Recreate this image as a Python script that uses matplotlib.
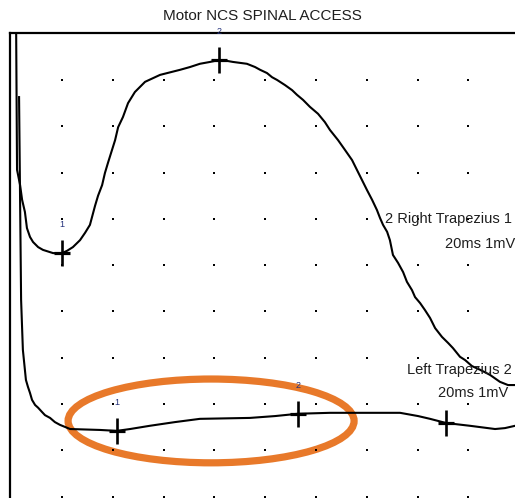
import numpy as np
import matplotlib
matplotlib.use("Agg")
import matplotlib.pyplot as plt
from matplotlib.patches import Ellipse

plt.rcParams['font.family'] = ['Liberation Sans', 'DejaVu Sans']

title = "Motor NCS SPINAL ACCESS"

# Right trapezius response (time in ms, amplitude in mV)
right_t = [1.9, 2.3, 3.5, 4.3, 5.4, 6.2, 7.4, 8.6, 10.6, 12.5, 16.5, 20.0, 22.0,
           24.3, 27.1, 29.1, 31.0, 33.0, 34.2, 35.8, 36.9, 38.1, 39.7, 40.9, 42.1,
           44.0, 46.0, 48.7, 52.7, 58.6, 66.5, 70.4, 74.3, 78.3, 81.8, 84.2, 87.3,
           92.8, 96.0, 98.0, 100.7, 102.7, 104.7, 107.8, 110.6, 112.5, 114.9, 117.6,
           120.8, 123.5, 125.5, 128.7, 131.4, 134.2, 136.1, 138.1, 140.1, 142.1,
           144.0, 145.2, 146.4, 148.0, 149.1, 150.3, 152.3, 154.3, 155.8, 157.8,
           159.0, 161.0, 162.9, 164.9, 166.9, 169.6, 172.0, 173.9, 176.7, 178.7,
           181.4, 184.6, 188.5, 192.4, 195.6, 198.4]
right_mv = [5.50, 2.06, 1.73, 1.41, 1.15, 0.80, 0.61, 0.50, 0.39, 0.33, 0.26, 0.26, 0.31,
            0.39, 0.54, 0.70, 0.87, 1.28, 1.50, 1.73, 1.99, 2.21, 2.49, 2.70, 2.98,
            3.20, 3.50, 3.74, 3.96, 4.11, 4.22, 4.28, 4.35, 4.39, 4.43, 4.42, 4.39,
            4.35, 4.28, 4.22, 4.15, 4.06, 4.00, 3.89, 3.78, 3.68, 3.57, 3.42,
            3.27, 3.09, 2.92, 2.70, 2.49, 2.27, 2.06, 1.84, 1.62, 1.41,
            1.19, 1.02, 0.87, 0.72, 0.54, 0.22, 0.05, -0.15, -0.36, -0.54,
            -0.69, -0.82, -0.97, -1.14, -1.36, -1.55, -1.68, -1.79, -1.98, -2.05,
            -2.18, -2.26, -2.37, -2.52, -2.59, -2.59]

# Left trapezius response
left_t = [3.1, 3.5, 3.9, 4.6, 5.8, 6.6, 7.4, 8.2, 9.4, 10.6, 12.1, 13.3, 15.3,
          17.2, 19.2, 23.2, 35.0, 41.6, 46.8, 54.6, 64.5, 74.3, 94.0, 103.9,
          112.9, 125.5, 153.1, 160.2, 164.9, 171.2, 180.6, 190.5, 194.4, 198.4]
left_mv = [6.63, 4.41, 2.25, 1.17, 0.52, 0.37, 0.24, 0.09, -0.02, -0.08, -0.17, -0.24, -0.30,
           -0.39, -0.45, -0.54, -0.56, -0.58, -0.54, -0.47, -0.39, -0.32, -0.30, -0.26,
           -0.21, -0.19, -0.19, -0.26, -0.32, -0.41, -0.47, -0.54, -0.52, -0.47]

# Latency cursors (ms) and their labels
right_marks = [20.0, 81.8]
left_marks = [41.6, 112.9, 171.2]
mark_labels = ["1", "2"]

right_name = "2 Right Trapezius 1"
left_name = "Left Trapezius 2"
scale_text = "20ms 1mV"

# Vertical display position of each trace (divisions from the top)
right_offset = -5.0
left_offset = -8.0

ms_per_div = 20
grid_cols = np.arange(1, 10) * ms_per_div
grid_rows = -np.arange(1, 11)

W, H = 515, 498
fig = plt.figure(figsize=(W / 100, H / 100), dpi=100)
ax = fig.add_axes([10 / W, 0, (W - 10) / W, (H - 33) / H])
ax.set_xlim(-0.47, 198.35)
ax.set_ylim(-10.03, 0.015)
for s in ("right", "bottom"):
    ax.spines[s].set_visible(False)
for s in ("left", "top"):
    ax.spines[s].set_linewidth(1.6)
ax.set_xticks([])
ax.set_yticks([])

# dotted division grid
gx, gy = np.meshgrid(grid_cols, grid_rows)
ax.plot(gx.ravel(), gy.ravel(), ls="none", marker="s", ms=1.9, mew=0, color="black")

traces = [(right_t, right_mv, right_offset, right_marks),
          (left_t, left_mv, left_offset, left_marks)]
for t, mv, off, marks in traces:
    y = np.asarray(mv) + off
    ax.plot(t, y, color="black", lw=1.5, solid_joinstyle="miter")
    my = np.interp(marks, t, y)
    ax.plot(marks, my, ls="none", marker="|", ms=19, mew=1.9, color="black")
    ax.plot(marks, my, ls="none", marker="_", ms=11, mew=2.3, color="black")
    for xm, ym, lab in zip(marks, my, mark_labels):
        ax.text(xm, ym + 0.62, lab, fontsize=6.5, color="#23307a",
                ha="center", va="center")

label_kw = dict(fontsize=10.5, ha="left", va="center", color="#1e1e1e")
ax.text(147.2, -4.0, right_name, **label_kw)
ax.text(170.8, -4.54, scale_text, **label_kw)
ax.text(155.8, -7.26, left_name, **label_kw)
ax.text(168.0, -7.76, scale_text, **label_kw)

ax.set_title(title, fontsize=11, pad=9, color="#1e1e1e")

# highlighted region around the left-side cursors
ax.add_patch(Ellipse((78.7, -8.365), 112.6, 1.81, fill=False,
                     edgecolor="#E8792A", lw=5.2, clip_on=False))

fig.savefig("out.png", dpi=100)
